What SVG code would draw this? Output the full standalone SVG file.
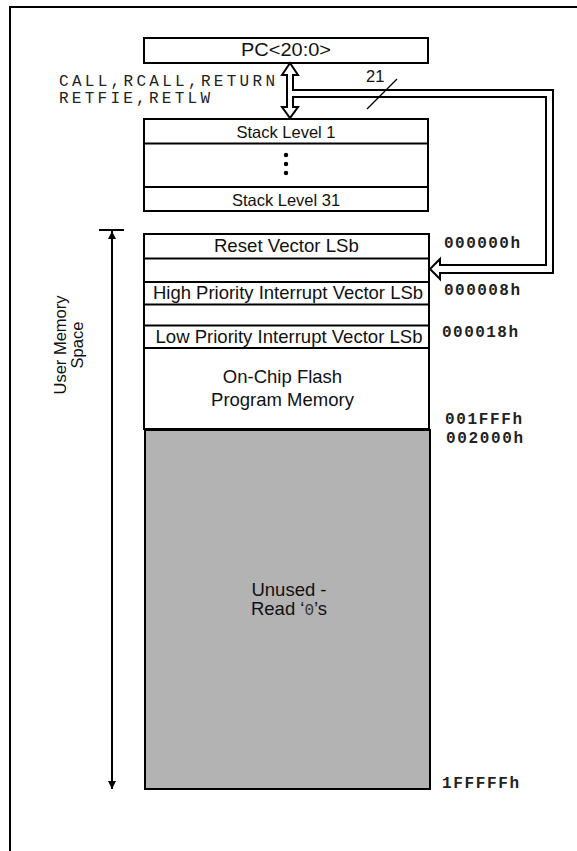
<svg xmlns="http://www.w3.org/2000/svg" width="577" height="851" viewBox="0 0 577 851">
<style>
.box{fill:#fff;stroke:#000;stroke-width:2}
.ln{stroke:#000;stroke-width:2;fill:none}
.t{font-family:"Liberation Sans",Arial,sans-serif;font-size:18.5px;fill:#111;text-anchor:middle}
.s{font-size:16.5px}
.m{font-family:"Liberation Mono","Courier New",monospace;font-size:16px;fill:#222}
.a{font-family:"Liberation Mono","Courier New",monospace;font-size:16px;font-weight:bold;fill:#222}
</style>
<defs>
<marker id="ah" viewBox="0 0 8 10" refX="8" refY="5" markerWidth="8" markerHeight="10" markerUnits="userSpaceOnUse" orient="auto">
<path d="M0,1 L8,5 L0,9 Z" fill="#000"/>
</marker>
</defs>
<rect width="577" height="851" fill="#fff"/>
<g id="frame"><path class="ln" d="M10,851 V7 H577"/></g>

<g id="pc"><rect class="box" x="144" y="38" width="284" height="25"/><text class="t" x="286" y="56" textLength="90" lengthAdjust="spacingAndGlyphs">PC&lt;20:0&gt;</text></g>

<g id="instr"><text class="m"><tspan x="59" y="85.5" textLength="216" lengthAdjust="spacing">CALL,RCALL,RETURN</tspan><tspan x="59" y="102.5" textLength="151" lengthAdjust="spacing">RETFIE,RETLW</tspan></text></g>

<g id="stack">
<rect class="box" x="144" y="119" width="284" height="92"/>
<line class="ln" x1="144" y1="143.5" x2="428" y2="143.5"/>
<line class="ln" x1="144" y1="187" x2="428" y2="187"/>
<text class="t s" x="286" y="138">Stack Level 1</text>
<circle cx="286" cy="155" r="2.2" fill="#000"/><circle cx="286" cy="164" r="2.2" fill="#000"/><circle cx="286" cy="173" r="2.2" fill="#000"/>
<text class="t s" x="286" y="206">Stack Level 31</text>
</g>

<g id="memory">
<rect class="box" x="144" y="234" width="285" height="195"/>
<line class="ln" x1="144" y1="258.5" x2="429" y2="258.5"/>
<line class="ln" x1="144" y1="282" x2="429" y2="282"/>
<line class="ln" x1="144" y1="304.5" x2="429" y2="304.5"/>
<line class="ln" x1="144" y1="325.5" x2="429" y2="325.5"/>
<line class="ln" x1="144" y1="348" x2="429" y2="348"/>
<text class="t" x="286.4" y="252" textLength="145" lengthAdjust="spacingAndGlyphs">Reset Vector LSb</text>
<text class="t" x="288" y="299" textLength="270" lengthAdjust="spacingAndGlyphs">High Priority Interrupt Vector LSb</text>
<text class="t" x="289" y="343" textLength="267" lengthAdjust="spacingAndGlyphs">Low Priority Interrupt Vector LSb</text>
<text class="t" x="282.5" y="383">On-Chip Flash</text>
<text class="t" x="282.5" y="406">Program Memory</text>
</g>

<g id="unused">
<rect x="145" y="430" width="285" height="359" fill="#b3b3b3" stroke="#000" stroke-width="2"/>
<text class="t" x="289" y="595.5">Unused -</text>
<text class="t" x="289" y="615">Read ‘<tspan font-family="Liberation Mono, monospace" font-size="16" fill="#333">0</tspan>’s</text>
</g>

<g id="addresses">
<text class="a" x="444" y="248" textLength="76" lengthAdjust="spacing">000000h</text>
<text class="a" x="444" y="295" textLength="76" lengthAdjust="spacing">000008h</text>
<text class="a" x="442" y="337" textLength="76" lengthAdjust="spacing">000018h</text>
<text class="a" x="445" y="424" textLength="77" lengthAdjust="spacing">001FFFh</text>
<text class="a" x="446" y="443" textLength="77" lengthAdjust="spacing">002000h</text>
<text class="a" x="442" y="788" textLength="77" lengthAdjust="spacing">1FFFFFh</text>
</g>

<g id="userspace">
<text class="t s" transform="translate(66,345) rotate(-90)">User Memory</text>
<text class="t s" transform="translate(83,345) rotate(-90)">Space</text>
</g>

<g id="connectors">
<path d="M290,63 L298,75 H293 V90 H553 V273 H440 V279 L430,269 L440,259 V265 H546 V97 H293 V107 H298 L290,118 L282,107 H287 V75 H282 Z" fill="#fff" stroke="#000" stroke-width="2" stroke-linejoin="miter"/>
<line x1="367" y1="109" x2="397" y2="79" stroke="#000" stroke-width="1.3"/>
<text x="366" y="82" font-family="Liberation Sans, Arial, sans-serif" font-size="16.5" fill="#111">21</text>
<line class="ln" x1="99" y1="230" x2="124" y2="230"/>
<line x1="112" y1="520" x2="112" y2="231" stroke="#000" stroke-width="2" marker-end="url(#ah)"/>
<line x1="112" y1="520" x2="112" y2="789" stroke="#000" stroke-width="2" marker-end="url(#ah)"/>
</g>
</svg>
